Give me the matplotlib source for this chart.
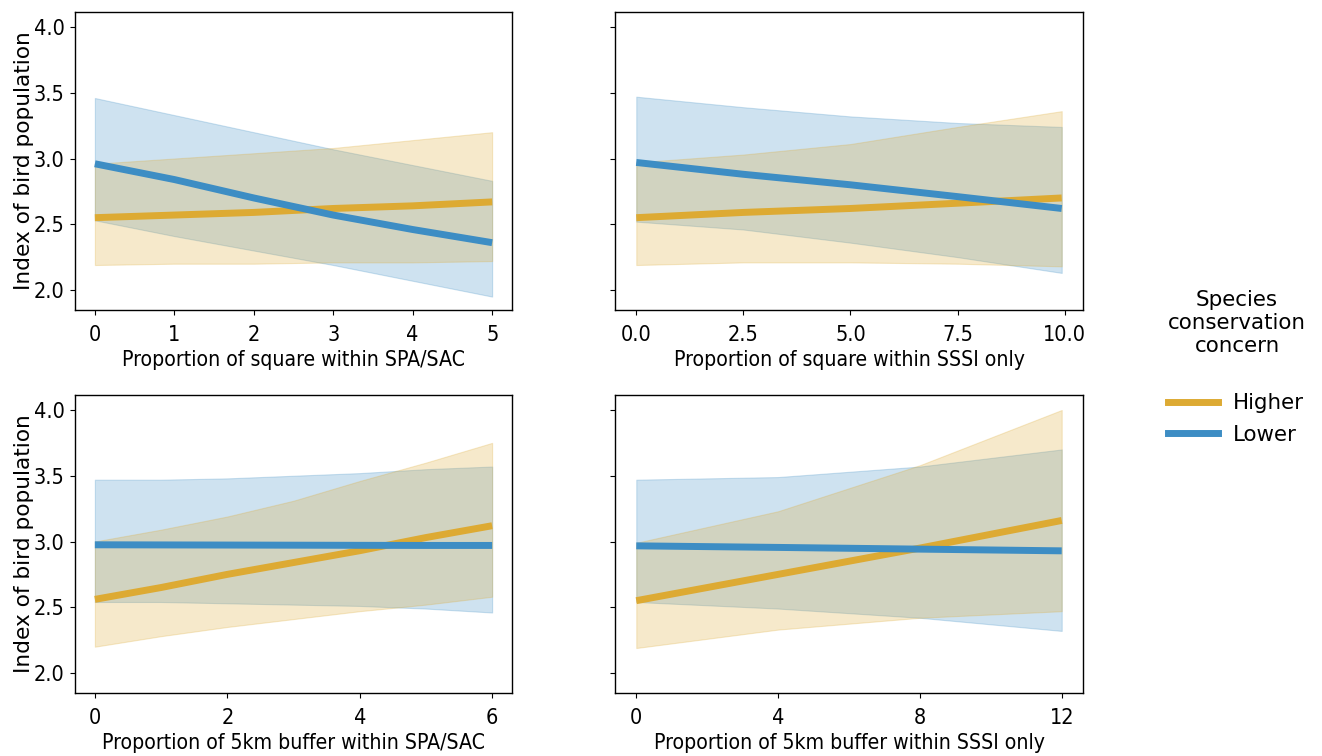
import matplotlib
matplotlib.use("Agg")
import matplotlib.pyplot as plt
import numpy as np

plt.rcParams["font.family"] = ["DejaVu Sans"]

# Predicted index of bird population (mean with confidence band) by designation cover
# Panel A: proportion of square within SPA/SAC
a_x = [0, 1, 2, 3, 4, 5]
a_high = [2.55, 2.57, 2.59, 2.62, 2.64, 2.67]
a_high_lo = [2.19, 2.20, 2.20, 2.21, 2.21, 2.22]
a_high_hi = [2.96, 3.00, 3.04, 3.08, 3.14, 3.20]
a_low = [2.96, 2.84, 2.70, 2.57, 2.46, 2.36]
a_low_lo = [2.53, 2.41, 2.30, 2.19, 2.07, 1.95]
a_low_hi = [3.46, 3.33, 3.20, 3.07, 2.95, 2.83]

# Panel B: proportion of square within SSSI only
b_x = [0, 2.5, 5.0, 7.5, 9.93]
b_high = [2.55, 2.59, 2.62, 2.66, 2.70]
b_high_lo = [2.19, 2.21, 2.21, 2.20, 2.18]
b_high_hi = [2.97, 3.03, 3.11, 3.24, 3.36]
b_low = [2.97, 2.88, 2.80, 2.71, 2.62]
b_low_lo = [2.52, 2.46, 2.36, 2.25, 2.13]
b_low_hi = [3.47, 3.39, 3.32, 3.27, 3.24]

# Panel C: proportion of 5km buffer within SPA/SAC
c_x = [0, 1, 2, 3, 4, 5, 6]
c_high = [2.56, 2.65, 2.75, 2.84, 2.93, 3.03, 3.12]
c_high_lo = [2.20, 2.28, 2.35, 2.41, 2.47, 2.52, 2.58]
c_high_hi = [3.00, 3.09, 3.19, 3.31, 3.46, 3.60, 3.75]
c_low = [2.975, 2.974, 2.973, 2.972, 2.971, 2.970, 2.970]
c_low_lo = [2.54, 2.54, 2.53, 2.52, 2.51, 2.49, 2.46]
c_low_hi = [3.47, 3.47, 3.48, 3.50, 3.52, 3.55, 3.57]

# Panel D: proportion of 5km buffer within SSSI only
d_x = [0, 4, 8, 12]
d_high = [2.55, 2.75, 2.95, 3.16]
d_high_lo = [2.19, 2.33, 2.42, 2.47]
d_high_hi = [2.99, 3.23, 3.58, 4.00]
d_low = [2.967, 2.955, 2.942, 2.929]
d_low_lo = [2.54, 2.49, 2.42, 2.32]
d_low_hi = [3.47, 3.49, 3.57, 3.70]

x_labels = [
    "Proportion of square within SPA/SAC",
    "Proportion of square within SSSI only",
    "Proportion of 5km buffer within SPA/SAC",
    "Proportion of 5km buffer within SSSI only",
]
x_ticks = [
    [0, 1, 2, 3, 4, 5],
    [0.0, 2.5, 5.0, 7.5, 10.0],
    [0, 2, 4, 6],
    [0, 4, 8, 12],
]
y_ticks = [2.0, 2.5, 3.0, 3.5, 4.0]
y_label = "Index of bird population"
groups = ["Higher", "Lower"]
legend_title = "Species\nconservation\nconcern"

GOLD = "#DDAA33"
BLUE = "#3D8DC4"

panels = [
    (a_x, a_high, a_high_lo, a_high_hi, a_low, a_low_lo, a_low_hi),
    (b_x, b_high, b_high_lo, b_high_hi, b_low, b_low_lo, b_low_hi),
    (c_x, c_high, c_high_lo, c_high_hi, c_low, c_low_lo, c_low_hi),
    (d_x, d_high, d_high_lo, d_high_hi, d_low, d_low_lo, d_low_hi),
]

W, H = 1322, 756
fig = plt.figure(figsize=(W / 100, H / 100), dpi=100)

# axes boxes in pixels: left, top, right, bottom
boxes = [
    (75, 12, 512, 310),
    (615, 12, 1083, 310),
    (75, 395, 512, 693),
    (615, 395, 1083, 693),
]

for i, (l, t, r, b) in enumerate(boxes):
    ax = fig.add_axes([l / W, 1 - b / H, (r - l) / W, (b - t) / H])
    x, hi, hi_lo, hi_hi, lo, lo_lo, lo_hi = panels[i]
    ax.fill_between(x, lo_lo, lo_hi, color=BLUE, alpha=0.25, linewidth=0.8)
    ax.fill_between(x, hi_lo, hi_hi, color=GOLD, alpha=0.25, linewidth=0.8)
    ax.plot(x, hi, color=GOLD, lw=5, solid_capstyle="butt", label=groups[0])
    ax.plot(x, lo, color=BLUE, lw=5, solid_capstyle="butt", label=groups[1])
    ax.set_ylim(1.848, 4.114)
    ax.set_yticks(y_ticks)
    ax.set_xticks(x_ticks[i])
    ax.set_xlabel(x_labels[i], fontsize=15.2, fontstretch="condensed", labelpad=4)
    ax.tick_params(axis="x", pad=7)
    ax.tick_params(axis="y", pad=4)
    for lab in ax.get_xticklabels() + ax.get_yticklabels():
        lab.set_fontsize(15.5)
        lab.set_fontstretch("condensed")
    for s in ax.spines.values():
        s.set_linewidth(1.0)
    if i % 2 == 0:
        ax.set_ylabel(y_label, fontsize=15.6, labelpad=0)
    else:
        ax.tick_params(labelleft=False)

# legend title and entries
fig.text(1237 / W, 1 - 352 / H, legend_title, ha="center", va="baseline",
         multialignment="center", fontsize=15.4)
handles = [plt.Line2D([], [], color=GOLD, lw=5), plt.Line2D([], [], color=BLUE, lw=5)]
fig.legend(handles, groups, loc="center", bbox_to_anchor=(1236 / W, 1 - 419 / H),
           frameon=False, fontsize=15.4, handlelength=2.35,
           handletextpad=0.7, labelspacing=0.55)

fig.savefig("out.png", dpi=100)
